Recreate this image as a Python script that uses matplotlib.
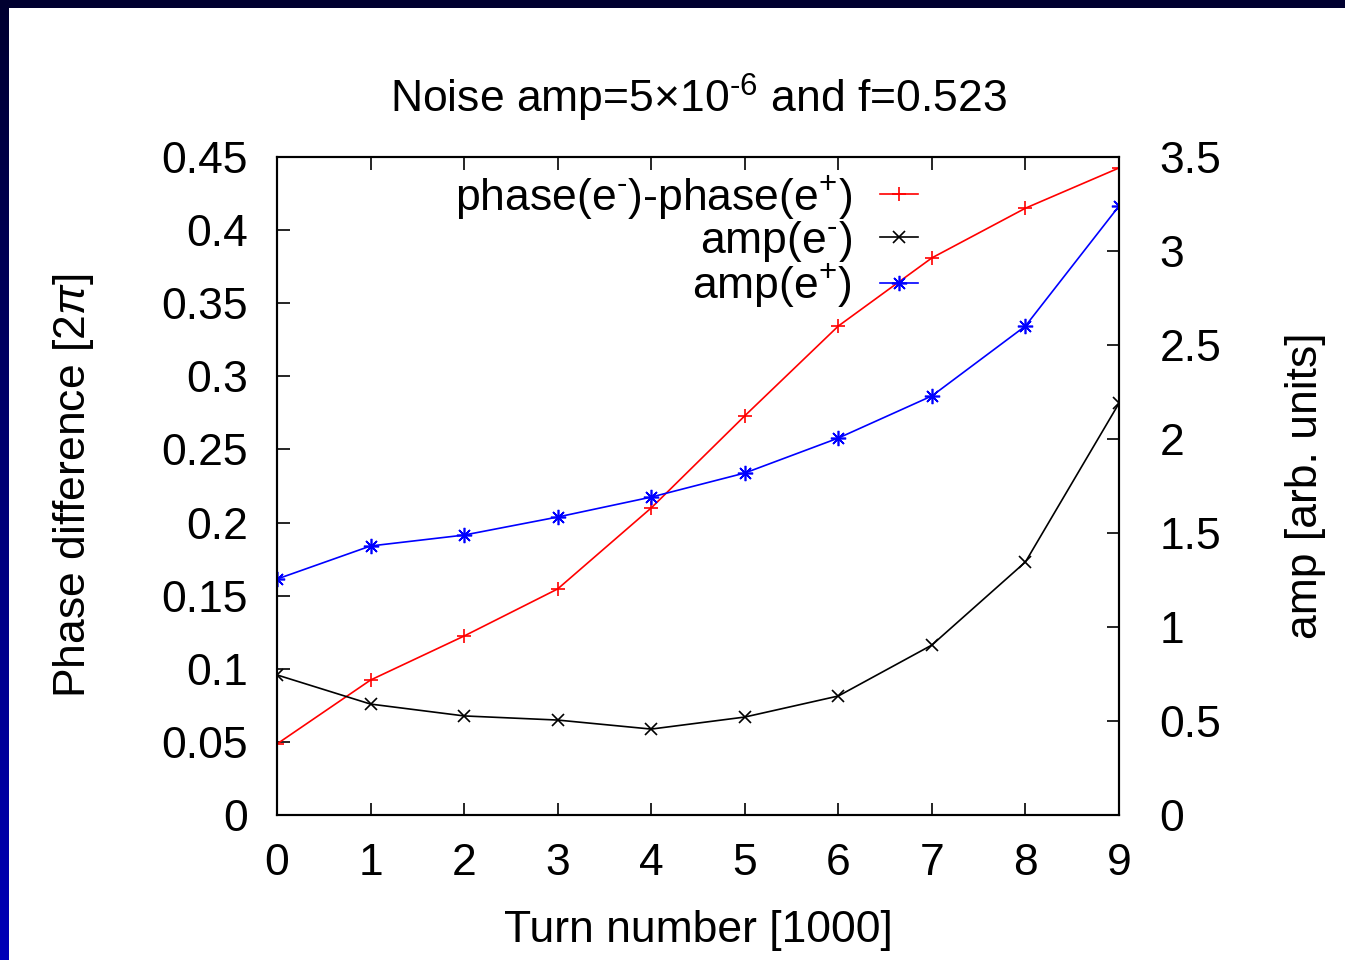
import numpy as np
import matplotlib.pyplot as plt
from matplotlib.patches import Rectangle

plt.rcParams['font.family'] = ['Liberation Sans', 'DejaVu Sans']
plt.rcParams['mathtext.fontset'] = 'custom'
plt.rcParams['mathtext.rm'] = 'Liberation Sans'
plt.rcParams['mathtext.it'] = 'Liberation Sans:italic'

# turn number in units of 1000
turns = [0, 1, 2, 3, 4, 5, 6, 7, 8, 9]
# phase(e-) - phase(e+) in units of 2pi
phase_diff = [0.0486, 0.0923, 0.1224, 0.1546, 0.210, 0.273, 0.3344, 0.381, 0.415, 0.4425]
# oscillation amplitudes [arb. units]
amp_minus = [0.745, 0.590, 0.527, 0.505, 0.457, 0.521, 0.633, 0.904, 1.346, 2.190]
amp_plus = [1.255, 1.431, 1.489, 1.585, 1.691, 1.819, 2.005, 2.229, 2.601, 3.239]

W, H = 1345, 960
fig = plt.figure(figsize=(W / 100, H / 100), dpi=100)

# slide-style frame: dark top bar and a left bar fading to blue
bg = fig.add_axes([0, 0, 1, 1], zorder=-10)
bg.axis('off')
grad = np.linspace(0, 1, 256).reshape(-1, 1)
top_c = np.array([0x00, 0x00, 0x30]) / 255
bot_c = np.array([0x00, 0x00, 0xb8]) / 255
img = top_c[None, None, :] * (1 - grad[:, :, None]) + bot_c[None, None, :] * grad[:, :, None]
bg.imshow(img, extent=[0, 9, H, 0], aspect='auto')
bg.add_patch(Rectangle((0, 0), W, 8, color='#000030', lw=0))
bg.set_xlim(0, W)
bg.set_ylim(H, 0)

ax = fig.add_axes([277 / W, 1 - 815 / H, (1119 - 277) / W, (815 - 157) / H])
ax2 = ax.twinx()

lw = 1.2
ms = 10
hy = '\u2010'
l1, = ax.plot(turns, phase_diff, color='red', lw=lw, marker='+', ms=ms, mew=1.2,
              label='phase(e$^{' + hy + '}$)-phase(e$^{+}$)')
l2, = ax2.plot(turns, amp_minus, color='black', lw=lw, marker='x', ms=ms * 0.8, mew=1.2,
               label='amp(e$^{' + hy + '}$)')
l3, = ax2.plot(turns, amp_plus, color='blue', lw=lw, marker=(8, 2, 0), ms=ms * 1.1, mew=1.2,
               label='amp(e$^{+}$)')

fs = 32
ax.set_xlim(0, 9)
ax.set_ylim(0, 0.45)
ax2.set_ylim(0, 3.5)
ax.set_xticks(turns)
ax.set_yticks(np.arange(0, 0.451, 0.05))
ax.set_yticklabels(['0', '0.05', '0.1', '0.15', '0.2', '0.25', '0.3', '0.35', '0.4', '0.45'])
ax2.set_yticks(np.arange(0, 3.51, 0.5))
ax2.set_yticklabels(['0', '0.5', '1', '1.5', '2', '2.5', '3', '3.5'])

ax.tick_params(axis='x', direction='in', top=True, length=9, width=1.2, labelsize=fs, pad=20)
ax.tick_params(axis='y', direction='in', right=False, length=9, width=1.2, labelsize=fs, pad=21)
ax2.tick_params(axis='y', direction='in', length=9, width=1.2, labelsize=fs, pad=29)
for a in (ax, ax2):
    for s in a.spines.values():
        s.set_linewidth(1.5)

ax.set_xlabel('Turn number [1000]', fontsize=fs, labelpad=19)
ax.set_ylabel(r'Phase difference [2$\pi$]', fontsize=fs, labelpad=47)
ax2.set_ylabel('amp [arb. units]', fontsize=fs, labelpad=46)
ax.set_title('Noise amp=5$\\times$10$^{' + hy + '6}$ and f=0.523', fontsize=fs, pad=32)

leg = ax.legend(handles=[l1, l2, l3], loc='upper right', bbox_to_anchor=(0.782, 1.003),
                frameon=False, markerfirst=False, fontsize=fs, handlelength=0.85,
                handletextpad=0.63, labelspacing=-0.05, borderaxespad=0)
for t in leg.get_texts():
    t.set_ha('right')

fig.savefig('out.png', dpi=100)
